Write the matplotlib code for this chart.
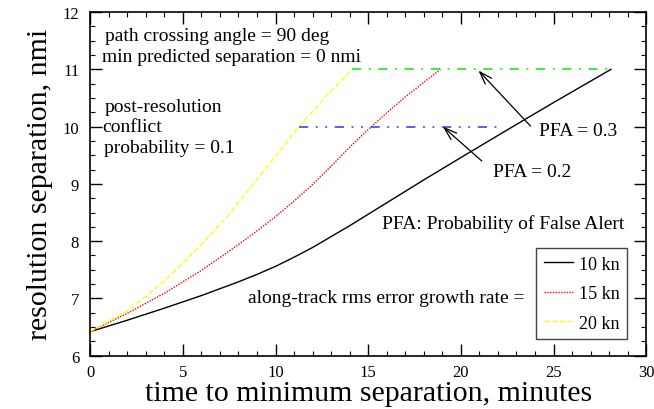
import matplotlib
matplotlib.use('Agg')
import matplotlib.pyplot as plt
from matplotlib.ticker import MultipleLocator

plt.rcParams['font.family'] = ['Liberation Serif', 'DejaVu Serif']

# along-track rms error growth rate = 10 kn
t10 = [0, 2, 4, 6, 8, 9, 10, 11, 12, 14, 16, 18, 20, 22.8, 25, 28.1]
s10 = [6.42, 6.62, 6.83, 7.05, 7.29, 7.42, 7.56, 7.72, 7.89, 8.27, 8.67, 9.07, 9.46, 10.0, 10.42, 11.0]
# 15 kn
t15 = [0, 2, 4, 6, 8, 9, 10, 11, 12, 13, 14, 15, 16, 17, 18.9]
s15 = [6.42, 6.74, 7.09, 7.49, 7.94, 8.18, 8.43, 8.70, 8.99, 9.31, 9.64, 9.95, 10.24, 10.52, 11.0]
# 20 kn
t20 = [0, 2, 4, 6, 7.5, 9, 10, 11.27, 12.7, 14.14]
s20 = [6.42, 6.78, 7.30, 7.94, 8.47, 9.08, 9.49, 10.0, 10.52, 11.0]

# PFA levels
t_pfa2 = [11.27, 22.3]
s_pfa2 = [10, 10]
t_pfa3 = [14.14, 28.1]
s_pfa3 = [11, 11]

labels = ['10 kn', '15 kn', '20 kn']

fig = plt.figure(figsize=(6.54, 4.10), dpi=100)
ax = fig.add_axes([0.138, 0.130, 0.850, 0.838])

ax.plot(t10, s10, color='black', lw=1, label=labels[0])
ax.plot(t15, s15, color='red', lw=1, ls=(0, (1, 1)), label=labels[1])
ax.plot(t20, s20, color='#ffff00', lw=1, ls=(0, (3.6, 2)), label=labels[2])
ax.plot(t_pfa2, s_pfa2, color='#3030ff', lw=1.1, ls=(0, (6, 5, 1.2, 5, 1.2, 5)))
ax.plot(t_pfa3, s_pfa3, color='#00f000', lw=1.1, ls=(0, (6, 5, 1.2, 5)))

ax.set_xlim(0, 30)
ax.set_ylim(6, 12)
ax.xaxis.set_major_locator(MultipleLocator(5))
ax.xaxis.set_minor_locator(MultipleLocator(1))
ax.yaxis.set_major_locator(MultipleLocator(1))
ax.yaxis.set_minor_locator(MultipleLocator(0.25))
ax.tick_params(which='both', direction='in', top=True, right=True)
ax.tick_params(which='major', length=8.4, width=1, labelsize=12)
ax.tick_params(axis='x', which='major', pad=6)
ax.tick_params(axis='y', which='major', pad=8)
ax.tick_params(which='minor', length=3.6, width=0.8)
for sp in ax.spines.values():
    sp.set_linewidth(1.2)

ax.set_xlabel('time to minimum separation, minutes', fontsize=21.5, labelpad=0)
ax.set_ylabel('resolution separation, nmi', fontsize=21.5, labelpad=7)

ax.text(0.79, 11.59, 'path crossing angle = 90 deg', fontsize=14, va='center')
ax.text(0.61, 11.22, 'min predicted separation = 0 nmi', fontsize=14, va='center')
ax.text(0.75, 10.36, 'post-resolution', fontsize=14, va='center')
ax.text(0.65, 10.0, 'conflict', fontsize=14, va='center')
ax.text(0.75, 9.63, 'probability = 0.1', fontsize=14, va='center')

ax.text(24.2, 9.93, 'PFA = 0.3', fontsize=14, va='center')
ax.text(21.72, 9.21, 'PFA = 0.2', fontsize=14, va='center')
ax.text(15.72, 8.32, 'PFA: Probability of False Alert', fontsize=14, va='center')
ax.text(23.45, 7.02, 'along-track rms error growth rate =', fontsize=14, va='center', ha='right')

arrow = dict(arrowstyle='->,head_length=0.65,head_width=0.22', lw=0.9, color='black',
             shrinkA=0, shrinkB=0)
ax.annotate('', xy=(20.95, 10.98), xytext=(23.76, 10.01), arrowprops=arrow, fontsize=14)
ax.annotate('', xy=(19.03, 10.0), xytext=(21.13, 9.40), arrowprops=arrow, fontsize=14)

leg = ax.legend(loc='lower right', bbox_to_anchor=(0.965, 0.0486), borderaxespad=0,
                fontsize=13, fancybox=False, edgecolor='#444444', framealpha=1,
                handlelength=1.65, handletextpad=0.3, labelspacing=0.7, borderpad=0.4)
leg.get_frame().set_linewidth(1)

fig.savefig('out.png', dpi=100)
